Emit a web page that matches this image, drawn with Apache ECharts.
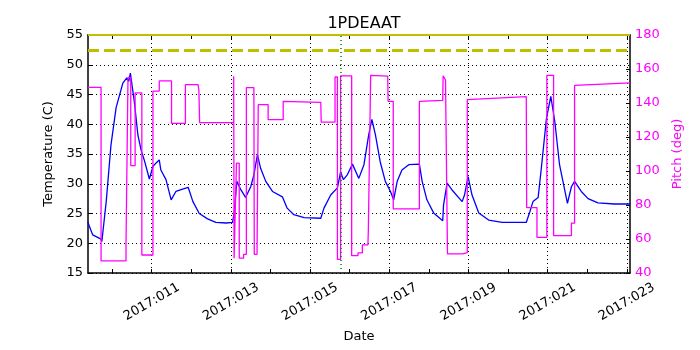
<!DOCTYPE html>
<html>
<head>
<meta charset="utf-8">
<title>1PDEAAT</title>
<script src="https://cdn.jsdelivr.net/npm/echarts@6/dist/echarts.min.js"></script>
<style>
    html, body { margin: 0; padding: 0; background: #fff; }
    #main { width: 700px; height: 350px; }
</style>
</head>
<body>
<div id="main"></div>
<script>
// x values are day-of-year 2017 (fractional)
const dayTicks = [10, 11, 12, 13, 14, 15, 16, 17, 18, 19, 20, 21, 22, 23];
const dayLabels = [11, 13, 15, 17, 19, 21, 23];
const tempTicks = [15, 20, 25, 30, 35, 40, 45, 50, 55];
const pitchTicks = [40, 60, 80, 100, 120, 140, 160, 180];

// 温度 (C)
const tempDay = [9.39, 9.41, 9.51, 9.72, 9.74, 9.85, 9.97, 10.10, 10.27, 10.37,
    10.42, 10.46, 10.49, 10.56, 10.65, 10.73, 10.81, 10.94, 11.03, 11.11,
    11.19, 11.23, 11.36, 11.49, 11.61, 11.78, 11.92, 12.04, 12.20, 12.41,
    12.62, 12.88, 13.04, 13.08, 13.15, 13.25, 13.37, 13.50, 13.58, 13.67,
    13.75, 13.88, 14.05, 14.30, 14.42, 14.59, 14.85, 15.27, 15.35, 15.52,
    15.69, 15.77, 15.84, 15.94, 16.07, 16.23, 16.36, 16.39, 16.48, 16.56,
    16.65, 16.77, 16.90, 17.03, 17.11, 17.20, 17.32, 17.49, 17.76, 17.83,
    17.95, 18.12, 18.35, 18.37, 18.46, 18.58, 18.84, 18.90, 18.99, 19.09,
    19.26, 19.51, 19.85, 20.46, 20.55, 20.63, 20.76, 20.84, 20.97, 21.08,
    21.18, 21.30, 21.50, 21.60, 21.68, 21.85, 22.02, 22.27, 22.69, 23.08];
const tempVal = [23.6, 23.1, 21.4, 20.7, 20.3, 27.0, 36.5, 42.8, 46.9, 47.8,
    47.2, 48.6, 48.8, 43.8, 38.2, 35.7, 34.0, 30.8, 32.9, 33.5,
    34.0, 32.3, 30.7, 27.3, 28.7, 29.1, 29.4, 27.0, 25.0, 24.1,
    23.5, 23.4, 23.5, 25.0, 30.4, 29.0, 27.7, 29.5, 31.5, 34.9,
    32.6, 30.4, 28.7, 27.8, 25.9, 24.8, 24.3, 24.2, 25.9, 28.1,
    29.3, 32.0, 30.7, 31.5, 33.3, 30.9, 33.2, 33.5, 38.2, 40.8,
    38.2, 33.7, 30.4, 28.7, 27.3, 30.4, 32.3, 33.2, 33.3, 30.4,
    27.3, 25.1, 23.8, 26.4, 30.1, 29.0, 27.0, 28.1, 31.2, 28.1,
    25.1, 23.9, 23.5, 23.5, 25.3, 27.0, 27.7, 32.6, 41.0, 44.7,
    40.5, 33.2, 26.7, 29.5, 30.4, 28.7, 27.5, 26.8, 26.6, 26.6];

// 俯仰角 (deg)
const pitchDay = [9.39, 9.72, 9.72, 10.35, 10.35, 10.40, 10.40, 10.47, 10.47, 10.58,
    10.58, 10.75, 10.75, 11.03, 11.03, 11.19, 11.19, 11.50, 11.50, 11.85,
    11.85, 12.17, 12.19, 12.21, 13.07, 13.07, 13.08, 13.13, 13.14, 13.21,
    13.21, 13.32, 13.32, 13.39, 13.39, 13.58, 13.59, 13.66, 13.66, 13.69,
    13.69, 13.94, 13.94, 14.32, 14.32, 15.27, 15.28, 15.63, 15.63, 15.69,
    15.69, 15.77, 15.77, 16.05, 16.05, 16.21, 16.21, 16.32, 16.32, 16.46,
    16.47, 16.52, 16.53, 16.96, 16.97, 17.10, 17.10, 17.76, 17.76, 18.35,
    18.36, 18.41, 18.42, 18.47, 18.85, 18.85, 18.97, 18.97, 20.46, 20.47,
    20.73, 20.73, 20.98, 20.98, 21.15, 21.15, 21.60, 21.60, 21.68, 21.68,
    23.08];
const pitchVal = [149.2, 149.2, 47.1, 47.1, 56.9, 56.9, 155.0, 155.0, 103.2, 103.2,
    145.9, 145.9, 50.6, 50.6, 147.0, 147.0, 153.0, 153.0, 128.0, 128.0,
    150.8, 150.8, 147.8, 128.4, 128.4, 155.7, 48.7, 48.7, 104.6, 104.6,
    48.7, 48.7, 51.0, 51.0, 149.0, 149.0, 51.0, 51.0, 53.8, 53.8,
    139.0, 139.0, 130.2, 130.2, 141.0, 140.4, 128.8, 128.8, 155.3, 155.3,
    48.0, 48.0, 156.0, 156.0, 50.2, 50.2, 51.8, 51.8, 56.5, 56.5,
    64.3, 64.3, 156.3, 155.8, 141.0, 141.0, 77.7, 77.7, 141.0, 141.5,
    156.0, 156.0, 153.5, 51.2, 51.2, 52.0, 52.0, 142.0, 143.7, 78.5,
    78.5, 61.0, 61.0, 156.3, 156.3, 62.0, 62.0, 69.3, 69.3, 150.4,
    151.8];

const limitHigh = 55;
const limitPlan = 52.5;
const markDay = 15.78;

const xMin = 9.39;
const xMax = 23.08;
const font = 'DejaVu Sans';

function pairs(xs, ys) {
    return xs.map(function (x, i) { return [x, ys[i]]; });
}

function dayLabel(v) {
    return '2017:' + String(Math.round(v)).padStart(3, '0');
}

const chart = echarts.init(document.getElementById('main'));

const gridDots = { color: '#000', width: 1, type: [1, 3] };

chart.setOption({
    animation: false,
    textStyle: { fontFamily: font },
    title: {
        text: '1PDEAAT',
        left: 359,
        textAlign: 'center',
        top: 11,
        textStyle: { fontFamily: font, fontSize: 16, fontWeight: 'normal', color: '#000' }
    },
    grid: { left: 88, right: 70, top: 35, bottom: 77 },
    xAxis: [
        {
            type: 'value', min: xMin, max: xMax, position: 'bottom',
            name: 'Date', nameLocation: 'middle', nameGap: 57,
            nameTextStyle: { fontFamily: font, fontSize: 13, color: '#000' },
            axisLine: { lineStyle: { color: '#000', width: 1.5 } },
            axisTick: { inside: true, length: 4, customValues: dayTicks, lineStyle: { color: '#000' } },
            axisLabel: {
                customValues: dayLabels, rotate: 30, margin: 29,
                align: 'center', verticalAlign: 'middle',
                fontFamily: font, fontSize: 13, color: '#000',
                formatter: dayLabel
            },
            splitLine: { show: false }
        },
        {
            type: 'value', min: xMin, max: xMax, position: 'top',
            axisLine: { lineStyle: { color: '#000', width: 1.5 } },
            axisTick: { inside: true, length: 4, customValues: dayTicks, lineStyle: { color: '#000' } },
            axisLabel: { show: false },
            splitLine: { show: false }
        },
        {
            // 网格竖线 only at labelled days
            type: 'value', min: xMin, max: xMax, position: 'bottom',
            axisLine: { show: false },
            axisTick: { show: false, customValues: dayLabels },
            axisLabel: { show: false },
            splitLine: { show: true, lineStyle: gridDots }
        }
    ],
    yAxis: [
        {
            type: 'value', min: 15, max: 55, interval: 5, position: 'left',
            name: 'Temperature (C)', nameLocation: 'middle', nameGap: 28, nameRotate: 90,
            nameTextStyle: { fontFamily: font, fontSize: 13, color: '#000' },
            axisLine: { show: true, lineStyle: { color: '#000', width: 1.5 } },
            axisTick: { show: true, inside: true, length: 4, lineStyle: { color: '#000' } },
            axisLabel: { fontFamily: font, fontSize: 13, color: '#000', margin: 5 },
            splitLine: { show: true, lineStyle: gridDots }
        },
        {
            type: 'value', min: 40, max: 180, interval: 20, position: 'right',
            name: 'Pitch (deg)', nameLocation: 'middle', nameGap: 31, nameRotate: 90,
            nameTextStyle: { fontFamily: font, fontSize: 13, color: '#ff00ff' },
            axisLine: { show: true, lineStyle: { color: '#000', width: 1.5 } },
            axisTick: { show: true, inside: true, length: 4, lineStyle: { color: '#000' } },
            axisLabel: { fontFamily: font, fontSize: 13, color: '#ff00ff', margin: 5 },
            splitLine: { show: false }
        }
    ],
    series: [
        {
            name: 'Temperature',
            type: 'line',
            xAxisIndex: 0,
            yAxisIndex: 0,
            data: pairs(tempDay, tempVal),
            showSymbol: false,
            symbol: 'none',
            lineStyle: { color: '#0000ff', width: 1.3 },
            markLine: {
                silent: true,
                symbol: 'none',
                label: { show: false },
                data: [
                    { yAxis: limitPlan, lineStyle: { color: '#bfbf00', width: 3, type: [11, 5] } },
                    { yAxis: limitHigh, lineStyle: { color: '#bfbf00', width: 2, type: 'solid' } },
                    { xAxis: markDay, lineStyle: { color: '#008000', width: 1.5, type: [1, 3] } }
                ]
            },
            z: 2
        },
        {
            name: 'Pitch',
            type: 'line',
            xAxisIndex: 0,
            yAxisIndex: 1,
            data: pairs(pitchDay, pitchVal),
            showSymbol: false,
            symbol: 'none',
            lineStyle: { color: '#ff00ff', width: 1.3 },
            z: 3
        }
    ]
});
</script>
</body>
</html>
